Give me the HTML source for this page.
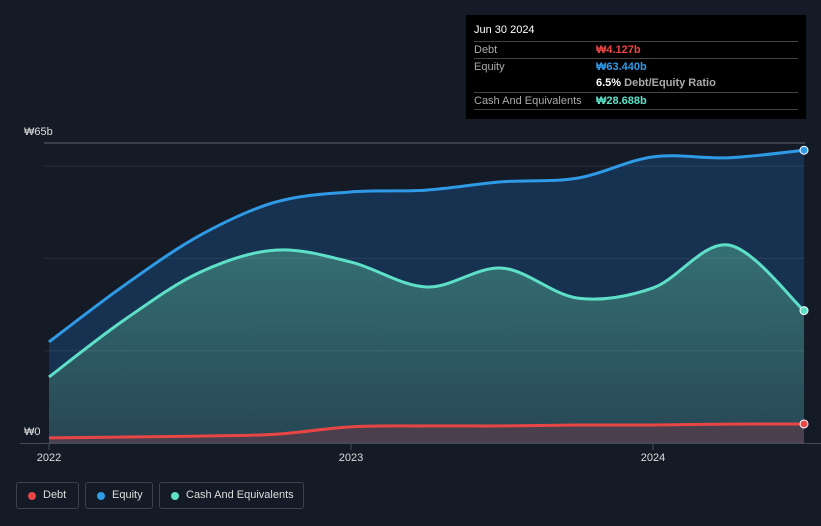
<!DOCTYPE html>
<html><head><meta charset="utf-8"><style>
html,body{margin:0;width:821px;height:526px;overflow:hidden}
body{background:#151b26;font-family:"Liberation Sans",sans-serif;position:relative}
.tt{position:absolute;left:466px;top:15px;width:340px;height:104px;background:#000;color:#fff;font-size:11px}
.row{position:absolute;left:8px;right:8px;border-top:1px solid #444;height:17px;line-height:17px;color:#aaa}
.row span{position:absolute;left:122px;font-weight:bold}
.leg{position:absolute;top:482px;height:27px;border:1px solid #3a4150;border-radius:3px;color:#ddd;font-size:11px;line-height:25px;padding:0 10px 0 26px;box-sizing:border-box;white-space:nowrap}
.leg i{position:absolute;left:11px;top:9px;width:8px;height:8px;border-radius:50%}
</style></head><body>
<svg id="chart" width="821" height="526" style="position:absolute;left:0;top:0"></svg>
<div class="tt">
<div style="position:absolute;left:8px;top:9px;font-size:11px">Jun 30 2024</div>
<div class="row" style="top:26px">Debt<span style="color:#e84545">₩4.127b</span></div>
<div class="row" style="top:43px">Equity<span style="color:#2f9ae6">₩63.440b</span></div>
<div class="row" style="top:60px;border-top:none"><span style="color:#fff">6.5% <b style="color:#aaa">Debt/Equity Ratio</b></span></div>
<div class="row" style="top:77px">Cash And Equivalents<span style="color:#5ee0c8">₩28.688b</span></div>
<div class="row" style="top:94px;height:0"></div>
</div>
<div class="leg" style="left:16px;width:63px"><i style="background:#e84545"></i>Debt</div>
<div class="leg" style="left:85px;width:68px"><i style="background:#2f9ae6"></i>Equity</div>
<div class="leg" style="left:159px;width:145px"><i style="background:#5ee0c8"></i>Cash And Equivalents</div>
<script>
const dates=[2022,2022.25,2022.5,2022.75,2023,2023.25,2023.5,2023.75,2024,2024.25,2024.5];
const equity=[21.9,34.2,45,52.2,54.4,54.8,56.6,57.4,62,61.8,63.44];
const cash=[14.3,26.7,37,41.8,39.2,33.8,37.9,31.4,33.6,42.9,28.688];
const debt=[1.1,1.3,1.5,1.9,3.5,3.7,3.7,3.9,3.9,4.1,4.127];
const yTicks=[0,20,40,60,65];
const xTicks=[2022,2023,2024];
const X=d=>49+(d-2022)*302, Y=v=>443-v*4.615;
const svg=document.getElementById('chart'),NS='http://www.w3.org/2000/svg';
function mk(t,a,p){const e=document.createElementNS(NS,t);for(const k in a)e.setAttribute(k,a[k]);(p||svg).appendChild(e);return e;}
function path(vals){const p=dates.map((d,i)=>[X(d),Y(vals[i])]);let s=`M${p[0][0]},${p[0][1]}`;
for(let i=0;i<p.length-1;i++){const p0=p[i-1]||p[i],p1=p[i],p2=p[i+1],p3=p[i+2]||p2;
s+=`C${p1[0]+(p2[0]-p0[0])/6},${p1[1]+(p2[1]-p0[1])/6} ${p2[0]-(p3[0]-p1[0])/6},${p2[1]-(p3[1]-p1[1])/6} ${p2[0]},${p2[1]}`;}return s;}
const defs=mk('defs',{});
const g=mk('linearGradient',{id:'cg',x1:0,y1:0,x2:0,y2:1},defs);
mk('stop',{offset:0,'stop-color':'#3a7a7a','stop-opacity':0.85},g);mk('stop',{offset:1,'stop-color':'#2a4a55','stop-opacity':0.85},g);
const x0=X(dates[0]),x1=X(dates[dates.length-1]);
const ea=mk('path',{d:path(equity)+`L${x1},443L${x0},443Z`,fill:'#173251'});

const ca=mk('path',{d:path(cash)+`L${x1},443L${x0},443Z`,fill:'url(#cg)'});

const da=mk('path',{d:path(debt)+`L${x1},443L${x0},443Z`,fill:'#4a3f4c'});

yTicks.forEach(t=>{const l=mk('line',{x1:44,x2:805,y1:Y(t),y2:Y(t),stroke:t==65?'#5a6070':'#ffffff','stroke-opacity':t==65?1:0.08});
});
[[equity,'#2f9ae6','equity-line'],[cash,'#5ee0c8','cash-line'],[debt,'#e84545','debt-line']].forEach(([v,c,n])=>{
const l=mk('path',{d:path(v),fill:'none',stroke:c,'stroke-width':3});
const pt=mk('circle',{cx:x1,cy:Y(v[v.length-1]),r:4,fill:c,stroke:'#fff','stroke-width':1});});
const ax=mk('line',{x1:20,x2:821,y1:443.5,y2:443.5,stroke:'#444b57'});
xTicks.forEach(t=>{const tk=mk('line',{x1:X(t),x2:X(t),y1:443,y2:450,stroke:'#444b57'});
const tx=mk('text',{x:X(t),y:461,fill:'#ddd','font-size':11,'text-anchor':'middle'});tx.textContent=t;});
[[65,'₩65b',135],[0,'₩0',435]].forEach(([v,s,y])=>{const tx=mk('text',{x:24,y:y,fill:'#ddd','font-size':11});tx.textContent=s;});
</script>
</body></html>
